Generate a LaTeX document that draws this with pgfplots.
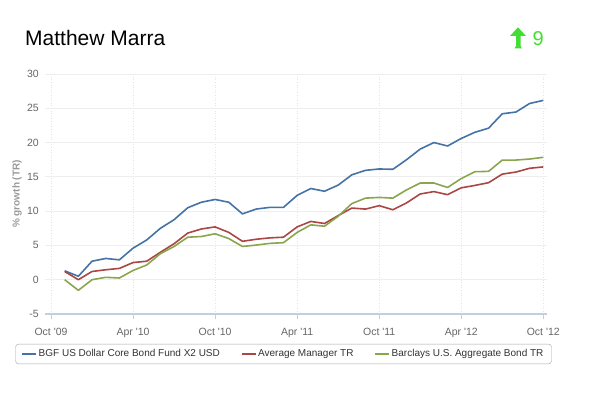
\documentclass[border=0pt]{standalone}
\usepackage{fontspec}
\setmainfont{Liberation Sans}
\usepackage{pgfplots}
\pgfplotsset{compat=1.18}
\definecolor{cblue}{HTML}{4572A7}
\definecolor{cred}{HTML}{AA4643}
\definecolor{cgreen}{HTML}{89A54E}
\definecolor{axisc}{HTML}{C0D0E0}
\definecolor{gridc}{HTML}{EEEEEE}
\definecolor{tickc}{HTML}{666666}
\definecolor{arrowg}{HTML}{44DD33}
\newcommand{\q}{\textquotesingle}
\begin{document}
\begin{tikzpicture}[x=1pt,y=1pt]
\useasboundingbox (0,0) rectangle (600,393);
\node[anchor=base west, inner sep=0pt, font=\fontsize{21}{25}\selectfont] at (25,347.3) {Matthew Marra};
\fill[arrowg] (518,365.7) -- (526,357) -- (520.5,357) -- (520.5,347) -- (522,344.7) -- (514.5,344.7) -- (516,347) -- (516,357) -- (510,357) -- cycle;
\node[anchor=base west, inner sep=0pt, text=arrowg, font=\fontsize{20}{24}\selectfont] at (532.5,347) {9};
\node[rotate=90, text=black!40, font=\bfseries\fontsize{10}{12}\selectfont] at (17,199) {\% growth (TR)};
\begin{axis}[
  at={(45pt,79pt)}, anchor=south west, scale only axis,
  width=501.7pt, height=240pt,
  xmin=-0.44, xmax=36.25, ymin=-5, ymax=30,
  axis x line*=bottom, axis y line*=left,
  x axis line style={draw=axisc, line width=1.5pt},
  y axis line style={draw=none},
  xtick={0,6,...,36},
  xticklabels={Oct \q09, Apr \q10, Oct \q10, Apr \q11, Oct \q11, Apr \q12, Oct \q12},
  ytick={-5,0,...,30},
  yticklabels={-5,0,5,10,15,20,25,30},
  ytick style={draw=none},
  xtick style={draw=axisc, line width=0.8pt},
  tick align=outside, major tick length=5pt,
  ymajorgrids, xmajorgrids,
  major y grid style={draw=gridc, line width=0.8pt},
  major x grid style={draw=black!10, line width=0.6pt, dotted},
  tick label style={text=tickc, font=\fontsize{10.5}{12}\selectfont},
  yticklabel style={anchor=east, inner sep=0pt, xshift=-1pt},
  xticklabel style={anchor=north, inner sep=0pt, yshift=-9pt},
  legend style={at={(0.4754,-0.1667)}, anchor=center, draw=black!35, rounded corners=3pt,
    font=\fontsize{10}{12}\selectfont, text=black!80, inner xsep=6pt, inner ysep=3.5pt,
    /tikz/every even column/.append style={column sep=19pt}},
  legend columns=3,
  legend cell align=left,
  legend image code/.code={\draw[#1, line width=1.2pt] (0pt,0pt) -- (14pt,0pt);},
  every axis plot/.append style={line width=1.6pt, line join=round},
]
\addplot[cblue] coordinates {
(1,1.3) (2,0.5) (3,2.7) (4,3.1) (5,2.9) (6,4.6) (7,5.8) (8,7.5) (9,8.75) (10,10.5)
(11,11.3) (12,11.7) (13,11.3) (14,9.6) (15,10.3) (16,10.55) (17,10.55) (18,12.3) (19,13.3) (20,12.9)
(21,13.8) (22,15.3) (23,15.95) (24,16.15) (25,16.1) (26,17.5) (27,19.05) (28,20.0) (29,19.5) (30,20.6)
(31,21.5) (32,22.1) (33,24.2) (34,24.45) (35,25.7) (36,26.15)};
\addlegendentry{BGF US Dollar Core Bond Fund X2 USD}
\addplot[cred] coordinates {
(1,1.2) (2,0) (3,1.2) (4,1.45) (5,1.65) (6,2.5) (7,2.7) (8,4.0) (9,5.25) (10,6.8)
(11,7.4) (12,7.7) (13,6.9) (14,5.6) (15,5.9) (16,6.1) (17,6.2) (18,7.7) (19,8.5) (20,8.2)
(21,9.35) (22,10.45) (23,10.3) (24,10.8) (25,10.2) (26,11.2) (27,12.5) (28,12.85) (29,12.4) (30,13.4)
(31,13.75) (32,14.15) (33,15.4) (34,15.7) (35,16.25) (36,16.45)};
\addlegendentry{Average Manager TR}
\addplot[cgreen] coordinates {
(1,0) (2,-1.55) (3,0) (4,0.35) (5,0.25) (6,1.35) (7,2.15) (8,3.8) (9,4.85) (10,6.2)
(11,6.3) (12,6.7) (13,6.0) (14,4.85) (15,5.05) (16,5.3) (17,5.4) (18,6.9) (19,8.0) (20,7.8)
(21,9.25) (22,11.1) (23,11.9) (24,12.0) (25,11.9) (26,13.1) (27,14.1) (28,14.1) (29,13.45) (30,14.75)
(31,15.75) (32,15.8) (33,17.45) (34,17.45) (35,17.6) (36,17.85)};
\addlegendentry{Barclays U.S. Aggregate Bond TR}
\end{axis}
\end{tikzpicture}
\end{document}
